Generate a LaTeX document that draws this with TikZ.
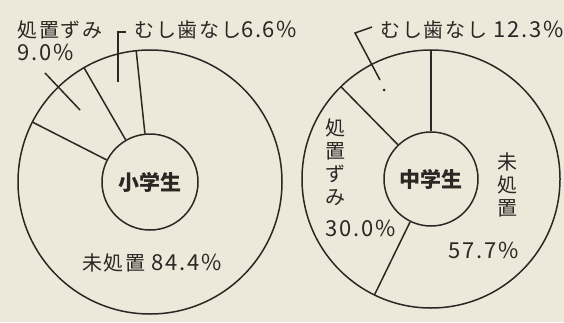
\documentclass[tikz,border=0pt]{standalone}
\usepackage{fontspec}
\setmainfont{Noto Sans CJK JP}
\usepackage{tikz}
\definecolor{paper}{HTML}{EEE8DA}
\definecolor{ink}{HTML}{2A2724}
\newcommand{\nm}[1]{{\fontsize{22}{23}\selectfont #1}}
\tikzset{
  lab/.style={inner sep=0pt,font=\fontsize{20}{23}\selectfont\addfontfeatures{LetterSpace=8}},
  center/.style={circle,draw,inner sep=0pt,font=\bfseries\fontsize{21}{21}\selectfont}
}

\begin{document}
\begin{tikzpicture}[x=1pt,y=1pt,color=ink,line width=1.5pt]
            \fill [paper] (0,0) rectangle (564,322);
            \useasboundingbox (0,0) rectangle (564,322);

            % 小学生
            \node [center,minimum size=96pt] (sho) at (150,140) {小学生};
            \draw (sho.center) circle (132);
            \draw (sho.96) -- ([shift={(96:132)}]sho.center);
            \draw (sho.120) -- ([shift={(120:132)}]sho.center);
            \draw (sho.153) -- ([shift={(153:132)}]sho.center);

            \node [lab,anchor=west] (shoTreated) at (17,292) {処置ずみ};
            \node [lab,anchor=west] (shoTreatedPct) at (17,270) {\nm{9.0\%}};
            \node [lab,anchor=west] (shoNone) at (134,292) {むし歯なし\nm{6.6\%}};
            \node [lab] (shoUntreated) at (152,59) {未処置 \nm{84.4\%}};

            \coordinate (a1) at (126,290);
            \coordinate (a2) at (118,290);
            \coordinate (a3) at (118,240);
            \draw [-] (a1) -- (a2) -- (a3);
            \coordinate (b1) at (45,249);
            \coordinate (b2) at (80,212);
            \draw [-] (b1) -- (b2);

            % 中学生
            \node [center,minimum size=94pt] (chu) at (431,143) {中学生};
            \draw (chu.center) circle (129);
            \draw (chu.90) -- ([shift={(90:129)}]chu.center);
            \draw (chu.134.3) -- ([shift={(134.3:129)}]chu.center);
            \draw (chu.244) -- ([shift={(244:129)}]chu.center);

            \node [lab,anchor=west] (chuNone) at (380,292) {むし歯なし \nm{12.3\%}};
            \node [lab,align=center] (chuTreated) at (335,160) {処\\置\\ず\\み};
            \node [lab] (chuTreatedPct) at (361,94) {\nm{30.0\%}};
            \node [lab,align=center] (chuUntreated) at (507,137) {未\\処\\置};
            \node [lab] (chuUntreatedPct) at (484,72) {\nm{57.7\%}};

            \coordinate (c1) at (372,295);
            \coordinate (c2) at (355,289);
            \coordinate (c3) at (380,242);
            \draw [-] (c1) -- (c2) -- (c3);
            \fill (384,232) circle (1.5);
        \end{tikzpicture}
\end{document}
